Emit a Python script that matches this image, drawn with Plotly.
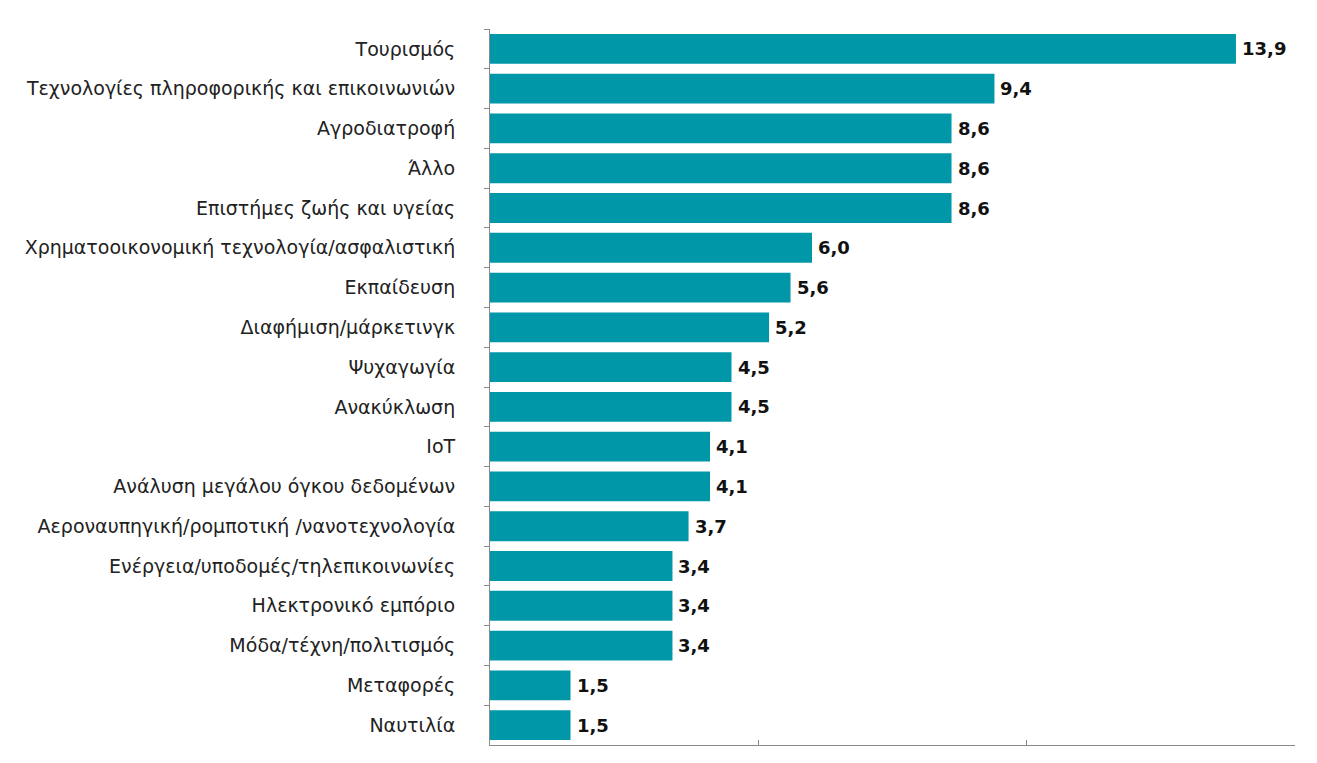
import plotly.graph_objects as go

categories = [
    "Τουρισμός",
    "Τεχνολογίες πληροφορικής και επικοινωνιών",
    "Αγροδιατροφή",
    "Άλλο",
    "Επιστήμες ζωής και υγείας",
    "Χρηματοοικονομική τεχνολογία/ασφαλιστική",
    "Εκπαίδευση",
    "Διαφήμιση/μάρκετινγκ",
    "Ψυχαγωγία",
    "Ανακύκλωση",
    "IoT",
    "Ανάλυση μεγάλου όγκου δεδομένων",
    "Αεροναυπηγική/ρομποτική /νανοτεχνολογία",
    "Ενέργεια/υποδομές/τηλεπικοινωνίες",
    "Ηλεκτρονικό εμπόριο",
    "Μόδα/τέχνη/πολιτισμός",
    "Μεταφορές",
    "Ναυτιλία",
]
values = [13.9, 9.4, 8.6, 8.6, 8.6, 6.0, 5.6, 5.2, 4.5, 4.5, 4.1, 4.1, 3.7, 3.4, 3.4, 3.4, 1.5, 1.5]

labels = [f"{v:.1f}".replace(".", ",") for v in values]

fig = go.Figure(
    go.Bar(
        x=values,
        y=categories,
        orientation="h",
        marker=dict(color="#0098A8", line=dict(width=0)),
        width=0.75,
        hoverinfo="x+y",
    )
)

for cat, v, lab in zip(categories, values, labels):
    fig.add_annotation(
        x=v, y=cat, text=lab, showarrow=False,
        xanchor="left", yanchor="middle", xshift=4,
        font=dict(family="DejaVu Sans", size=18, color="#111111", weight="bold"),
    )

fig.update_layout(
    width=1301,
    height=747,
    margin=dict(l=482, r=14, t=21, b=10),
    paper_bgcolor="white",
    plot_bgcolor="white",
    showlegend=False,
    font=dict(family="DejaVu Sans", size=19, color="#222222"),
)
fig.update_xaxes(
    range=[0, 15],
    tickvals=[0, 5, 10, 15],
    showticklabels=False,
    ticks="inside",
    ticklen=5,
    tickcolor="#888888",
    showline=True,
    linecolor="#888888",
    linewidth=1,
    showgrid=False,
    zeroline=False,
)
fig.update_yaxes(
    autorange="reversed",
    ticks="outside",
    tickson="boundaries",
    ticklen=5,
    tickcolor="#888888",
    showline=True,
    linecolor="#888888",
    linewidth=1,
    showgrid=False,
    ticklabelstandoff=30,
    tickfont=dict(family="DejaVu Sans", size=19, color="#222222"),
)

fig.write_html("out.html")
